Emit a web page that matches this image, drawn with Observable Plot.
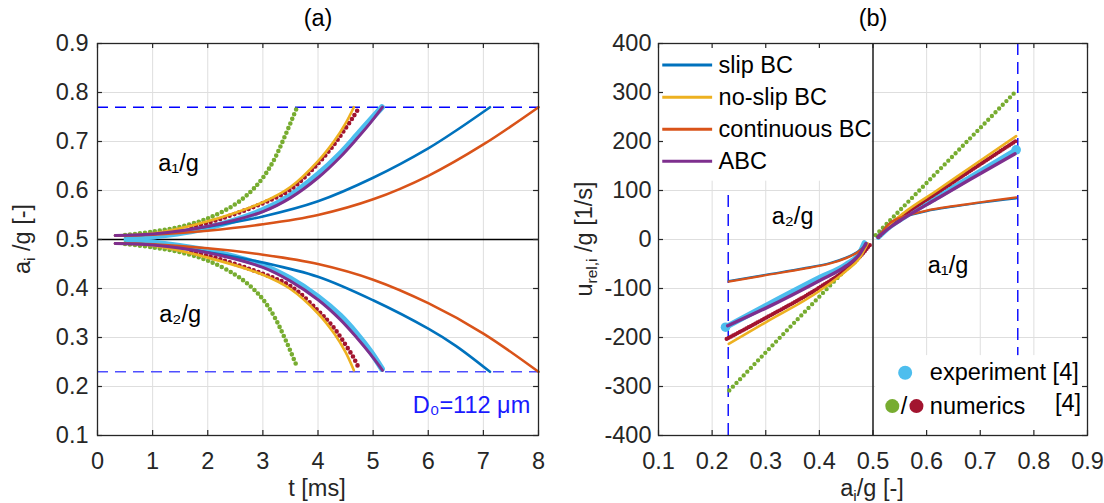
<!DOCTYPE html>
<html><head><meta charset="utf-8">
<script src="https://cdn.jsdelivr.net/npm/d3@7"></script>
<script src="https://cdn.jsdelivr.net/npm/@observablehq/plot@0.6"></script>
<style>
body{margin:0;background:#fff;}
#wrap{display:flex;width:1104px;height:503px;overflow:hidden;}
</style></head><body><div id="wrap"></div>
<script>
// ---------- ticks ----------
const tTicks = [0,1,2,3,4,5,6,7,8];
const aTicks = [0.1,0.2,0.3,0.4,0.5,0.6,0.7,0.8,0.9];
const bxTicks = [0.1,0.2,0.3,0.4,0.5,0.6,0.7,0.8,0.9];
const byTicks = [-400,-300,-200,-100,0,100,200,300,400];

// ---------- panel (a): a_i/g vs t [ms] ----------
const contT  = [0.32,1,2,3,4,5,6,7,8];
const contA1 = [0.508,0.510,0.518,0.531,0.550,0.582,0.630,0.694,0.770];
const contA2 = [0.492,0.490,0.482,0.469,0.450,0.418,0.370,0.308,0.230];

const slipT  = [0.32,1,2,3,4,5,6,6.5,7.12];
const slipA1 = [0.508,0.511,0.526,0.547,0.578,0.626,0.686,0.722,0.770];
const slipA2 = [0.492,0.489,0.474,0.453,0.424,0.376,0.318,0.283,0.230];

const expT  = [0.53,1,2,3,3.5,4,4.4,4.7,4.95,5.16];
const expA1 = [0.502,0.506,0.524,0.560,0.590,0.633,0.675,0.712,0.744,0.770];
const expA2 = [0.498,0.494,0.477,0.447,0.420,0.383,0.345,0.308,0.272,0.236];

const abcT  = [0.32,1,2,3,3.5,4,4.4,4.7,4.95,5.17];
const abcA1 = [0.508,0.511,0.527,0.557,0.585,0.626,0.668,0.705,0.738,0.770];
const abcA2 = [0.492,0.489,0.473,0.443,0.415,0.377,0.337,0.300,0.266,0.233];

const noslipT  = [0.32,1,2,3,3.5,4,4.3,4.5,4.65];
const noslipA1 = [0.508,0.512,0.537,0.576,0.607,0.660,0.702,0.737,0.770];
const noslipA2 = [0.492,0.488,0.463,0.428,0.399,0.349,0.307,0.270,0.233];

const num2T  = [1.7,2,3,3.5,4,4.3,4.5,4.65,4.75];
const num2A1 = [0.527,0.534,0.574,0.602,0.655,0.695,0.727,0.752,0.770];
const num2A2 = [0.474,0.467,0.430,0.405,0.355,0.318,0.285,0.258,0.235];

const num1T  = [0.5,1,1.5,2,2.5,2.8,3.0,3.2,3.4,3.62];
const num1A1 = [0.509,0.516,0.526,0.543,0.572,0.600,0.626,0.662,0.711,0.770];
const num1A2 = [0.491,0.484,0.474,0.457,0.428,0.402,0.378,0.344,0.298,0.240];

const aLimits = [0.77, 0.23];

// ---------- panel (b): u_rel,i/g vs a_i/g ----------
const num1PosA = [0.505,0.637,0.767];            const num1PosU = [9,157,303];
const num1NegA = [0.232,0.36,0.494];             const num1NegU = [-308,-162,-10];
const num2PosA = [0.51,0.532,0.557,0.619,0.68,0.769]; const num2PosU = [5,29,50,95,139,203];
const num2NegA = [0.227,0.3,0.4,0.45,0.475,0.496];   const num2NegU = [-203,-160,-98,-61,-36,-9];
const noslipPosA = [0.51,0.532,0.557,0.619,0.68,0.767]; const noslipPosU = [5,31,54,100,146,211];
const noslipNegA = [0.231,0.3,0.4,0.45,0.475,0.49];    const noslipNegU = [-213,-169,-105,-64,-38,-8];
const expPosA = [0.51,0.532,0.557,0.619,0.68,0.767];  const expPosU = [5,27,45,86,126,183];
const expNegA = [0.225,0.3,0.4,0.45,0.475,0.484];     const expNegU = [-179,-135,-78,-51,-28,-7];
const abcPosA = [0.51,0.532,0.557,0.619,0.68,0.765];  const abcPosU = [5,25,43,83,122,175];
const abcNegA = [0.229,0.3,0.4,0.45,0.475,0.487];     const abcNegU = [-176,-140,-84,-54,-30,-8];
const contPosA = [0.51,0.532,0.557,0.6,0.649,0.7,0.767]; const contPosU = [5,34,47,59,68,76,86];
const contNegA = [0.231,0.3,0.37,0.42,0.45,0.47,0.487];  const contNegU = [-86,-73,-60,-49,-38,-27,-12];
const slipPosA = [0.51,0.532,0.557,0.6,0.649,0.7,0.767]; const slipPosU = [5,33,46,58,67,75,84];
const slipNegA = [0.231,0.3,0.37,0.42,0.45,0.47,0.487];  const slipNegU = [-85,-72,-59,-48,-37,-26,-12];

const legendNames = ["slip BC","no-slip BC","continuous BC","ABC"];

// ---------- styles ----------
const C = {slip:"#0072BD", cont:"#D95319", noslip:"#EDB120", abc:"#7E2F8E", num1:"#77AC30", exp:"#4DBEEE", num2:"#A2142F"};
const FONT = "'Liberation Sans', Arial, Helvetica, sans-serif";
const FS = 23.5;
const legendColors = [C.slip, C.noslip, C.cont, C.abc];

function rowsA(ts, a1, a2){
  return [...ts.map((t,i)=>({t, a:a1[i], br:1})), ...ts.map((t,i)=>({t, a:a2[i], br:2}))];
}
function rowsB(pa, pu, na, nu){
  return [...pa.map((a,i)=>({a, u:pu[i], br:1})), ...na.map((a,i)=>({a, u:nu[i], br:2}))];
}
const grid = {stroke:"#dedede", strokeOpacity:1, strokeWidth:1};
const frameC = "#262626";

function lineA(rows, stroke, w, dotted){
  const o = {x:"t", y:"a", z:"br", stroke, strokeWidth:w, curve:"catmull-rom", strokeLinecap:"round"};
  if (dotted) o.strokeDasharray = "0,5";
  return Plot.line(rows, o);
}
function lineB(rows, stroke, w, dotted, curve="monotone-x"){
  const o = {x:"a", y:"u", z:"br", stroke, strokeWidth:w, curve, strokeLinecap:"round"};
  if (dotted) o.strokeDasharray = dotted;
  return Plot.line(rows, o);
}

function richText(svg, x, y, parts, {rotate=0, anchor="middle", size=FS, fill="#262626"}={}){
  const t = d3.select(svg).append("text")
    .attr("transform", `translate(${x},${y}) rotate(${rotate})`)
    .attr("text-anchor", anchor).attr("font-family", FONT).attr("font-size", size).attr("fill", fill);
  let shift = 0;
  for (const [s, sub] of parts){
    const sp = t.append("tspan").text(s);
    if (sub){ sp.attr("font-size", size*0.66).attr("dy", 5 - shift); shift = 5; }
    else { sp.attr("dy", 0 - shift); shift = 0; }
  }
}

// ================= panel (a) =================
const plotA = Plot.plot({
  width:552, height:503, marginLeft:97, marginRight:14, marginTop:43, marginBottom:68,
  x:{domain:[0,8]}, y:{domain:[0.1,0.9]},
  style:{fontFamily:FONT, fontSize:FS+"px", color:"#262626", background:"white", overflow:"visible"},
  marks:[
    Plot.gridX(tTicks, grid),
    Plot.gridY(aTicks, grid),
    Plot.ruleY([0.5], {stroke:"#000", strokeWidth:1.3}),
    Plot.ruleY([aLimits[0]], {stroke:"#0000ff", strokeWidth:1.4, strokeDasharray:"11,7"}),
    Plot.ruleY([aLimits[1]], {stroke:"#4f4fff", strokeWidth:1.6, strokeDasharray:"11,7"}),
    lineA(rowsA(expT, expA1, expA2), C.exp, 6),
    lineA(rowsA(num1T, num1A1, num1A2), C.num1, 4.6, true),
    lineA(rowsA(num2T, num2A1, num2A2), C.num2, 4.6, true),
    lineA(rowsA(slipT, slipA1, slipA2), C.slip, 2.6),
    lineA(rowsA(noslipT, noslipA1, noslipA2), C.noslip, 2.6),
    lineA(rowsA(contT, contA1, contA2), C.cont, 2.6),
    lineA(rowsA(abcT, abcA1, abcA2), C.abc, 3),
    Plot.text(["a\u2081/g"], {x:1.47, y:0.655, fill:"#000", fontSize:FS}),
    Plot.text(["a\u2082/g"], {x:1.5, y:0.348, fill:"#000", fontSize:FS}),
    Plot.text(["D\u2080=112 \u03bcm"], {x:7.85, y:0.162, textAnchor:"end", fill:"#1a1aff", fontSize:FS}),
    Plot.frame({stroke:frameC, strokeWidth:1.3}),
    Plot.ruleX(tTicks, {x:d=>d, y1:0.1, y2:0.1102, stroke:frameC, strokeWidth:1.2}),
    Plot.ruleX(tTicks, {x:d=>d, y1:0.9, y2:0.8898, stroke:frameC, strokeWidth:1.2}),
    Plot.ruleY(aTicks, {y:d=>d, x1:0, x2:0.09, stroke:frameC, strokeWidth:1.2}),
    Plot.ruleY(aTicks, {y:d=>d, x1:8, x2:7.91, stroke:frameC, strokeWidth:1.2}),
    Plot.axisX(tTicks, {tickSize:0, tickPadding:17, label:null, tickFormat:d=>String(d), fill:"#262626", fontSize:FS}),
    Plot.axisY(aTicks, {tickSize:0, tickPadding:9, label:null, tickFormat:d=>d.toFixed(1), fill:"#262626", fontSize:FS}),
    Plot.text(["(a)"], {frameAnchor:"top", lineAnchor:"middle", dy:-25, fill:"#000", fontSize:FS})
  ]
});

// ================= panel (b) =================
const legRows = legendNames.map((name,i)=>({name, color:legendColors[i], u:356 - i*65.5}));
const plotB = Plot.plot({
  width:552, height:503, marginLeft:106, marginRight:17, marginTop:43, marginBottom:68,
  x:{domain:[0.1,0.9]}, y:{domain:[-400,400]},
  color:{type:"identity"},
  style:{fontFamily:FONT, fontSize:FS+"px", color:"#262626", background:"white", overflow:"visible"},
  marks:[
    Plot.gridX(bxTicks, grid),
    Plot.gridY(byTicks, grid),
    Plot.ruleX([aLimits[1]], {y1:-400, y2:90, stroke:"#0000ff", strokeWidth:1.4, strokeDasharray:"12,7"}),
    Plot.ruleX([aLimits[0]], {y1:-400, y2:400, stroke:"#0000ff", strokeWidth:1.4, strokeDasharray:"12,7"}),
    lineB(rowsB(expPosA, expPosU, expNegA, expNegU), C.exp, 5.5),
    Plot.dot([{a:expPosA[expPosA.length-1], u:expPosU[expPosU.length-1]},{a:expNegA[0], u:expNegU[0]}], {x:"a", y:"u", r:4.8, fill:C.exp}),
    lineB(rowsB(num1PosA, num1PosU, num1NegA, num1NegU), C.num1, 4.4, "0,5.2"),
    lineB(rowsB(num2PosA, num2PosU, num2NegA, num2NegU), C.num2, 4.2, "0,2.5"),
    lineB(rowsB(slipPosA, slipPosU, slipNegA, slipNegU), C.slip, 2.2, null, "catmull-rom"),
    lineB(rowsB(noslipPosA, noslipPosU, noslipNegA, noslipNegU), C.noslip, 2.6),
    lineB(rowsB(contPosA, contPosU, contNegA, contNegU), C.cont, 2.2, null, "catmull-rom"),
    lineB(rowsB(abcPosA, abcPosU, abcNegA, abcNegU), C.abc, 3.4),
    Plot.text(["a\u2082/g"], {x:0.35, y:48, fill:"#000", fontSize:FS}),
    Plot.text(["a\u2081/g"], {x:0.64, y:-54, fill:"#000", fontSize:FS}),
    // legend boxes
    Plot.rect([0], {x1:0.1, x2:0.4985, y1:119, y2:400, fill:"white"}),
    Plot.rect([0], {x1:0.505, x2:0.9, y1:-400, y2:-237, fill:"white"}),
    Plot.ruleX([0.5], {stroke:"#000", strokeWidth:1.3}),
    Plot.link(legRows, {x1:0.107, x2:0.2, y1:"u", y2:"u", stroke:"color", strokeWidth:3}),
    Plot.text(legRows, {x:0.212, y:"u", text:"name", textAnchor:"start", fill:"#000", fontSize:FS}),
    Plot.dot([0], {x:0.56, y:-272, r:7, fill:C.exp}),
    Plot.dot([0], {x:0.536, y:-340, r:7, fill:C.num1}),
    Plot.dot([0], {x:0.581, y:-340, r:7, fill:C.num2}),
    Plot.text(["/"], {x:0.558, y:-340, fill:"#000", fontSize:FS}),
    Plot.text(["experiment [4]"], {x:0.606, y:-272, textAnchor:"start", fill:"#000", fontSize:FS}),
    Plot.text(["numerics"], {x:0.606, y:-340, textAnchor:"start", fill:"#000", fontSize:FS}),
    Plot.text(["[4]"], {x:0.888, y:-334, textAnchor:"end", fill:"#000", fontSize:FS}),
    Plot.frame({stroke:frameC, strokeWidth:1.3}),
    Plot.ruleX(bxTicks, {x:d=>d, y1:-400, y2:-389.8, stroke:frameC, strokeWidth:1.2}),
    Plot.ruleX(bxTicks, {x:d=>d, y1:400, y2:389.8, stroke:frameC, strokeWidth:1.2}),
    Plot.ruleY(byTicks, {y:d=>d, x1:0.1, x2:0.1093, stroke:frameC, strokeWidth:1.2}),
    Plot.ruleY(byTicks, {y:d=>d, x1:0.9, x2:0.8907, stroke:frameC, strokeWidth:1.2}),
    Plot.axisX(bxTicks, {tickSize:0, tickPadding:17, label:null, tickFormat:d=>d.toFixed(1), fill:"#262626", fontSize:FS}),
    Plot.axisY(byTicks, {tickSize:0, tickPadding:7, label:null, tickFormat:d=>String(d), fill:"#262626", fontSize:FS}),
    Plot.text(["(b)"], {frameAnchor:"top", lineAnchor:"middle", dy:-25, fill:"#000", fontSize:FS})
  ]
});

const wrap = document.getElementById("wrap");
wrap.appendChild(plotA);
wrap.appendChild(plotB);

// axis labels with subscripts
richText(plotA, 317, 496, [["t [ms]"]]);
richText(plotA, 30, 239, [["a"],["i",1],[" /g [-]"]], {rotate:-90});
richText(plotB, 320, 496, [["a"],["i",1],["/g [-]"]]);
richText(plotB, 40, 239, [["u"],["rel,i",1],[" /g [1/s]"]], {rotate:-90});
</script>
</body></html>
